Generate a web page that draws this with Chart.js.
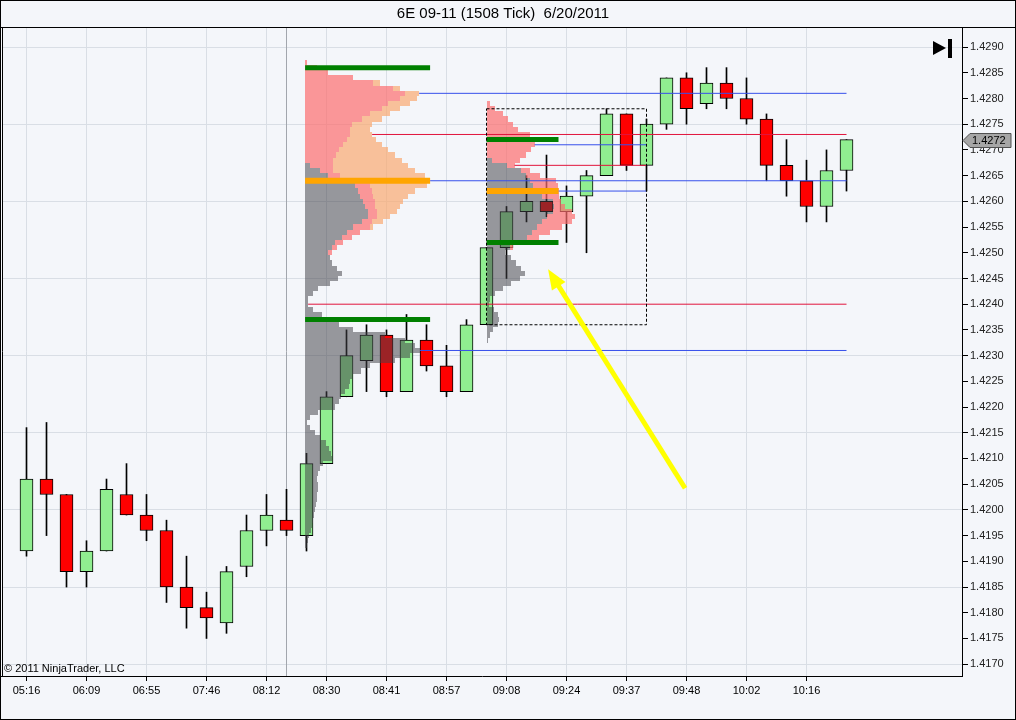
<!DOCTYPE html>
<html>
<head>
<meta charset="utf-8">
<script src="https://cdn.jsdelivr.net/npm/chart.js@4.4.0/dist/chart.umd.min.js"></script>
<style>
  html, body { margin: 0; padding: 0; background: #F4F6FA; }
  canvas { display: block; }
</style>
</head>
<body>
<canvas id="myChart" width="1016" height="720"></canvas>
<script>
// bar data (1508 tick bars)
var timeLabels = ['05:16', '06:09', '06:55', '07:46', '08:12', '08:30', '08:41', '08:57', '09:08', '09:24', '09:37', '09:48', '10:02', '10:16'];
var labelEvery = 3;
var opens  = [1.4192, 1.4206, 1.4203, 1.4188, 1.4192, 1.4203, 1.4199, 1.4196, 1.4185, 1.4181,
              1.4178, 1.4189, 1.4196, 1.4198, 1.4195, 1.4209, 1.4222, 1.4229, 1.4234, 1.4223,
              1.4233, 1.4228, 1.4223, 1.4236, 1.4251, 1.4258, 1.4260, 1.4258, 1.4261, 1.4265,
              1.4277, 1.4267, 1.4275, 1.4284, 1.4279, 1.4283, 1.4280, 1.4276, 1.4267, 1.4264,
              1.4259, 1.4266];
var highs  = [1.4216, 1.4217, 1.4203, 1.4194, 1.4206, 1.4209, 1.4203, 1.4198, 1.4191, 1.4184,
              1.4189, 1.4199, 1.4203, 1.4204, 1.4211, 1.4223, 1.4235, 1.4236, 1.4235, 1.4238,
              1.4236, 1.4232, 1.4237, 1.4251, 1.4259, 1.4265, 1.4269, 1.4263, 1.4266, 1.4278,
              1.4277, 1.4276, 1.4284, 1.4285, 1.4286, 1.4286, 1.4284, 1.4277, 1.4272, 1.4268,
              1.4270, 1.4272];
var lows   = [1.4191, 1.4195, 1.4185, 1.4185, 1.4192, 1.4199, 1.4194, 1.4182, 1.4177, 1.4175,
              1.4176, 1.4187, 1.4193, 1.4195, 1.4192, 1.4209, 1.4222, 1.4223, 1.4222, 1.4223,
              1.4227, 1.4222, 1.4223, 1.4236, 1.4245, 1.4256, 1.4257, 1.4252, 1.4250, 1.4265,
              1.4266, 1.4262, 1.4274, 1.4275, 1.4278, 1.4278, 1.4275, 1.4264, 1.4261, 1.4256,
              1.4256, 1.4262];
var closes = [1.4206, 1.4203, 1.4188, 1.4192, 1.4204, 1.4199, 1.4196, 1.4185, 1.4181, 1.4179,
              1.4188, 1.4196, 1.4199, 1.4196, 1.4209, 1.4222, 1.4230, 1.4234, 1.4223, 1.4233,
              1.4228, 1.4223, 1.4236, 1.4251, 1.4258, 1.4260, 1.4258, 1.4261, 1.4265, 1.4277,
              1.4267, 1.4275, 1.4284, 1.4278, 1.4283, 1.4280, 1.4276, 1.4267, 1.4264, 1.4259,
              1.4266, 1.4272];

var priceTicks = [1.4290, 1.4285, 1.4280, 1.4275, 1.4270, 1.4265, 1.4260, 1.4255, 1.4250, 1.4245,
                  1.4240, 1.4235, 1.4230, 1.4225, 1.4220, 1.4215, 1.4210, 1.4205, 1.4200, 1.4195,
                  1.4190, 1.4185, 1.4180, 1.4175, 1.4170];
var gridPrices = [1.4290, 1.4275, 1.4260, 1.4245, 1.4230, 1.4215, 1.4200, 1.4185, 1.4170];
var sessionBreak = 13;
var tickSize = 0.0001;

// volume profiles, one value per price tick from the top price downwards
var profStart = [13.93, 13.93, 23];
var profTop   = [1.4287, 1.4240, 1.4279];
var profEnd   = [41, 41, 31];
var prof0Grey  = [0, 0, 0, 0, 0, 0, 0, 0, 0, 0, 0, 0, 0, 0, 0, 0, 0, 0, 0, 0,
                  5, 15, 23, 40, 50, 53, 55, 58, 60, 63, 63, 57, 48, 42, 37, 30, 27, 23, 25, 27,
                  32, 37, 33, 25, 13, 8, 3];
var prof0Pink  = [2, 12, 23, 48, 68, 88, 100, 95, 83, 77, 65, 57, 47, 45, 45, 42, 38, 34, 31, 28,
                  23, 13, 12, 15, 15, 14, 13, 12, 10, 9, 9, 10, 17, 13, 10, 8, 5, 4, 0, 0,
                  0, 0, 0, 0, 0, 0, 0];
var prof0Peach = [0, 0, 0, 0, 7, 7, 14, 17, 22, 18, 20, 20, 20, 20, 22, 29, 39, 49, 59, 69,
                  75, 82, 85, 70, 57, 43, 35, 28, 25, 20, 13, 11, 3, 0, 0, 0, 0, 0, 0, 0,
                  0, 0, 0, 0, 0, 0, 0];
var prof1Grey  = [3, 8, 17, 25, 34, 48, 80, 100, 110, 115, 105, 90, 65, 56, 47, 45, 44, 40, 36, 34,
                  30, 13, 5, 2, 5, 10, 16, 21, 24, 26, 27, 18, 15, 13, 12, 13, 13, 12, 12, 11,
                  10, 9, 8, 7, 6, 4, 3, 2];
var prof2Grey  = [0, 0, 0, 0, 0, 0, 0, 0, 0, 0, 0,
                  5, 20, 34, 39, 43, 46, 50, 55, 66, 67, 66, 60, 55, 50, 45, 40, 30, 23, 18,
                  24, 29, 34, 38, 33, 24, 16, 8, 3, 2, 7, 11, 12, 11, 6, 3, 1];
var prof2Pink  = [3, 8, 16, 21, 26, 31, 43, 47, 48, 44, 39,
                  28, 8, 9, 14, 26, 25, 22, 17, 8, 11, 19, 28, 30, 25, 18, 12, 6, 3, 0,
                  0, 0, 0, 0, 0, 0, 0, 0, 0, 0, 0, 0, 0, 0, 0, 0, 0];
var profLayers = [[prof0Grey, prof0Pink, prof0Peach], [prof1Grey], [prof2Grey, prof2Pink]];

// point of control / value area per profile group
var pocProfile = [0, 2];
var pocPrices  = [1.4264, 1.4262];
var vaPrices   = [[1.4286, 1.4237], [1.4272, 1.4252]];

// naked levels [profile, price]
var nakedBlue = [[0, 1.4281], [0, 1.4264], [1, 1.4231], [2, 1.4271], [2, 1.4262]];
var nakedRed  = [[0, 1.4273], [1, 1.4240], [2, 1.4267]];

var boxBars   = [23, 31];
var boxPrices = [1.4236, 1.4278];
var arrowFrom = [32.93, 1.42042];
var arrowTo   = [26.08, 1.42468];

var xMin = -1.225, xMax = 46.775;
var yMin = 1.41677, yMax = 1.42939;
var barsPerContract = 0.05;

var BG = '#F4F6FA';
var GRID = '#D9DEE5';
var BLUE = 'rgb(55,80,235)';
var RED = 'rgb(225,20,60)';
var LAYER_COLORS = ['rgba(66,66,72,0.53)', 'rgba(252,110,110,0.7)', 'rgba(250,169,113,0.7)'];

function profileWidth(p, price) {
    var k = Math.round((profTop[p] - price) / tickSize);
    var w = 0;
    profLayers[p].forEach(function(layer) { w += layer[k] || 0 });
    return w;
}

function hLine(x0, x1, price, color, width, order) {
    return {
        type: 'line',
        data: [{x: x0, y: price}, {x: x1, y: price}],
        borderColor: color,
        borderWidth: width,
        pointRadius: 0,
        fill: false,
        order: order
    };
}

var bars = opens.map(function(o, i) { return i });

var datasets = [
    {
        type: 'line', label: 'session',
        data: [{x: sessionBreak, y: yMin}, {x: sessionBreak, y: yMax}],
        borderColor: '#A2A6AD', borderWidth: 1, pointRadius: 0, order: 12
    },
    {
        type: 'bar', label: 'wicks',
        data: bars.map(function(i) { return {x: i, y: [lows[i], highs[i]]} }),
        backgroundColor: '#000', barThickness: 1, grouped: false, order: 11
    },
    {
        type: 'bar', label: 'bodies',
        data: bars.map(function(i) { return {x: i, y: [opens[i], closes[i]]} }),
        backgroundColor: bars.map(function(i) { return closes[i] > opens[i] ? '#90EE90' : '#FF0000' }),
        borderColor: '#000', borderWidth: 1, borderSkipped: false,
        barThickness: 13, grouped: false, order: 10
    }
];

nakedBlue.forEach(function(n) {
    datasets.push(hLine(profStart[n[0]] + profileWidth(n[0], n[1]) * barsPerContract, profEnd[n[0]], n[1], BLUE, 1, 5));
});
nakedRed.forEach(function(n) {
    datasets.push(hLine(profStart[n[0]] + profileWidth(n[0], n[1]) * barsPerContract, profEnd[n[0]], n[1], RED, 1, 5));
});

pocProfile.forEach(function(p, j) {
    var x1 = profStart[p] + profileWidth(p, pocPrices[j]) * barsPerContract;
    vaPrices[j].forEach(function(v) {
        datasets.push(hLine(profStart[p], x1, v, '#008000', 5, 4));
    });
    datasets.push(hLine(profStart[p], x1, pocPrices[j], '#FFA500', 6, 4));
});

datasets.push({
    type: 'line',
    data: [{x: boxBars[0], y: boxPrices[1]}, {x: boxBars[1], y: boxPrices[1]},
           {x: boxBars[1], y: boxPrices[0]}, {x: boxBars[0], y: boxPrices[0]},
           {x: boxBars[0], y: boxPrices[1]}],
    borderColor: '#000', borderWidth: 1, borderDash: [3, 2],
    pointRadius: 0, fill: false, order: 3
});

var backgroundPlugin = {
    id: 'bg',
    beforeDraw: function(chart) {
        var c = chart.ctx;
        c.save();
        c.fillStyle = BG;
        c.fillRect(0, 0, chart.width, chart.height);
        c.restore();
    }
};

var profilePlugin = {
    id: 'profiles',
    afterDatasetDraw: function(chart, args) {
        if (chart.data.datasets[args.index].label !== 'bodies') return;
        var xs = chart.scales.x, ys = chart.scales.y, c = chart.ctx, a = chart.chartArea;
        c.save();
        c.beginPath();
        c.rect(a.left, a.top, a.right - a.left, a.bottom - a.top);
        c.clip();
        profLayers.forEach(function(layers, p) {
            layers[0].forEach(function(_, k) {
                var price = profTop[p] - k * tickSize;
                var y0 = Math.round(ys.getPixelForValue(price + tickSize / 2));
                var y1 = Math.round(ys.getPixelForValue(price - tickSize / 2));
                var cum = 0;
                layers.forEach(function(layer, j) {
                    var w = layer[k];
                    if (!w) return;
                    var x0 = Math.round(xs.getPixelForValue(profStart[p] + cum * barsPerContract));
                    var x1 = Math.round(xs.getPixelForValue(profStart[p] + (cum + w) * barsPerContract));
                    c.fillStyle = LAYER_COLORS[j];
                    c.fillRect(x0, y0, x1 - x0, y1 - y0);
                    cum += w;
                });
            });
        });
        c.restore();
    }
};

var arrowPlugin = {
    id: 'arrow',
    afterDatasetsDraw: function(chart) {
        var xs = chart.scales.x, ys = chart.scales.y, c = chart.ctx;
        var x0 = xs.getPixelForValue(arrowFrom[0]), y0 = ys.getPixelForValue(arrowFrom[1]);
        var x1 = xs.getPixelForValue(arrowTo[0]), y1 = ys.getPixelForValue(arrowTo[1]);
        var len = Math.hypot(x1 - x0, y1 - y0);
        var ux = (x1 - x0) / len, uy = (y1 - y0) / len;
        var head = 20, half = 8;
        var bx = x1 - ux * head, by = y1 - uy * head;
        c.save();
        c.strokeStyle = '#FFFF00';
        c.fillStyle = '#FFFF00';
        c.lineWidth = 5;
        c.beginPath();
        c.moveTo(x0, y0);
        c.lineTo(bx + ux * 2, by + uy * 2);
        c.stroke();
        c.beginPath();
        c.moveTo(x1, y1);
        c.lineTo(bx - uy * half, by + ux * half);
        c.lineTo(bx + uy * half, by - ux * half);
        c.closePath();
        c.fill();
        c.restore();
    }
};

var framePlugin = {
    id: 'frame',
    afterDraw: function(chart) {
        var c = chart.ctx, a = chart.chartArea, ys = chart.scales.y;
        c.save();
        c.strokeStyle = '#000';
        c.lineWidth = 1;
        c.beginPath();
        c.moveTo(0, a.top + 0.5); c.lineTo(chart.width, a.top + 0.5);
        c.moveTo(a.left + 0.5, a.top); c.lineTo(a.left + 0.5, a.bottom);
        c.moveTo(0, a.bottom + 0.5); c.lineTo(a.left, a.bottom + 0.5);
        c.stroke();
        c.strokeRect(0.5, 0.5, chart.width - 1, chart.height - 1);

        // copyright
        c.fillStyle = '#000';
        c.font = "11px 'Liberation Sans', Arial, sans-serif";
        c.textBaseline = 'alphabetic';
        c.textAlign = 'left';
        c.fillText('\u00A9 2011 NinjaTrader, LLC', a.left + 2, a.bottom - 4);

        // go-to-end icon
        var ix = a.right - 29, iy = a.top + 21;
        c.beginPath();
        c.moveTo(ix, iy - 7); c.lineTo(ix + 13, iy); c.lineTo(ix, iy + 7);
        c.closePath();
        c.fill();
        c.fillRect(ix + 15, iy - 9, 4, 19);

        // last price tag
        var last = closes[closes.length - 1];
        var py = Math.round(ys.getPixelForValue(last)) + 0.5;
        var rx = a.right + 1;
        c.beginPath();
        c.moveTo(rx, py);
        c.lineTo(rx + 7, py - 7);
        c.lineTo(rx + 48, py - 7);
        c.lineTo(rx + 48, py + 7);
        c.lineTo(rx + 7, py + 7);
        c.closePath();
        c.fillStyle = '#A6A6A6';
        c.fill();
        c.strokeStyle = '#505050';
        c.stroke();
        c.fillStyle = '#000';
        c.textBaseline = 'middle';
        c.fillText(last.toFixed(4), rx + 9, py);
        c.restore();
    }
};

Chart.defaults.font.family = "'Liberation Sans', Arial, sans-serif";
Chart.defaults.font.size = 11;
Chart.defaults.color = '#000';

var ctx = document.getElementById("myChart").getContext('2d');
var myChart = new Chart(ctx, {
    type: 'bar',
    data: { datasets: datasets },
    options: {
        responsive: false,
        animation: false,
        devicePixelRatio: 1,
        layout: { padding: { left: 2, right: 12, top: 0, bottom: 0 } },
        plugins: {
            legend: { display: false },
            tooltip: { enabled: false },
            title: {
                display: true,
                text: '6E 09-11 (1508 Tick)  6/20/2011',
                color: '#000',
                font: { size: 15, weight: 'normal' },
                padding: { top: 5, bottom: 4 }
            }
        },
        scales: {
            x: {
                type: 'linear',
                min: xMin,
                max: xMax,
                offset: false,
                grid: { offset: false, color: GRID, tickColor: '#000', tickLength: 5 },
                border: { display: true, color: '#000' },
                ticks: {
                    autoSkip: false, maxRotation: 0, padding: 3,
                    callback: function(value, index) { return timeLabels[index] }
                },
                afterBuildTicks: function(scale) {
                    scale.ticks = timeLabels.map(function(t, k) { return {value: k * labelEvery} });
                },
                afterFit: function(scale) { scale.height = 44 }
            },
            y: {
                type: 'linear',
                position: 'right',
                min: yMin,
                max: yMax,
                grid: {
                    color: function(c) {
                        if (!c.tick) return 'transparent';
                        var v = Math.round(c.tick.value * 1e4);
                        return gridPrices.some(function(g) { return Math.round(g * 1e4) === v }) ? GRID : 'transparent';
                    },
                    tickColor: '#000',
                    tickLength: 6
                },
                border: { display: true, color: '#000' },
                ticks: {
                    autoSkip: false, padding: 2, color: '#222',
                    callback: function(value) { return value.toFixed(4) }
                },
                afterBuildTicks: function(scale) {
                    scale.ticks = priceTicks.map(function(v) { return {value: v} });
                },
                afterFit: function(scale) { scale.width = 42 }
            }
        }
    },
    plugins: [backgroundPlugin, profilePlugin, arrowPlugin, framePlugin]
});
</script>
</body>
</html>
